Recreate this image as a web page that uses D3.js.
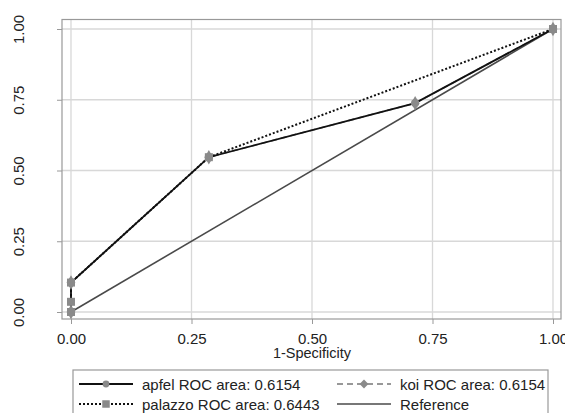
<!DOCTYPE html>
<html>
<head>
<meta charset="utf-8">
<script src="https://cdn.jsdelivr.net/npm/d3@7"></script>
<style>
  body { margin: 0; background: #fff; }
  text { font-family: "Liberation Sans", Arial, sans-serif; fill: #222; }
</style>
</head>
<body>
<div id="chart"></div>
<script>
// ROC curves
const ticks = [0, 0.25, 0.5, 0.75, 1];
const tickLabels = ['0.00', '0.25', '0.50', '0.75', '1.00'];

const apfelFpr = [0, 0, 0.286, 0.714, 1];
const apfelTpr = [0, 0.104, 0.547, 0.738, 1];
const koiFpr = [0, 0, 0.286, 0.714, 1];
const koiTpr = [0, 0.104, 0.547, 0.738, 1];
const palazzoFpr = [0, 0, 0, 0.286, 1];
const palazzoTpr = [0, 0.036, 0.104, 0.547, 1];
const refFpr = [0, 1];
const refTpr = [0, 1];

const legendLabels = ['apfel ROC area: 0.6154', 'koi ROC area: 0.6154',
  'palazzo ROC area: 0.6443', 'Reference'];

const width = 565, height = 413;
const frame = {left: 62, right: 561, top: 19.5, bottom: 319};

const x = d3.scaleLinear().domain([0, 1]).range([71, 553]);
const y = d3.scaleLinear().domain([0, 1]).range([312, 29]);

const svg = d3.select('#chart').append('svg')
  .attr('width', width).attr('height', height);

// grid
svg.append('g').selectAll('line.gx').data(ticks).join('line')
  .attr('x1', d => x(d)).attr('x2', d => x(d))
  .attr('y1', frame.top).attr('y2', frame.bottom)
  .attr('stroke', '#d8d8d8').attr('stroke-width', 1.3);
svg.append('g').selectAll('line.gy').data(ticks).join('line')
  .attr('y1', d => y(d)).attr('y2', d => y(d))
  .attr('x1', frame.left).attr('x2', frame.right)
  .attr('stroke', '#d8d8d8').attr('stroke-width', 1.3);

svg.append('rect')
  .attr('x', frame.left).attr('y', frame.top)
  .attr('width', frame.right - frame.left).attr('height', frame.bottom - frame.top)
  .attr('fill', 'none').attr('stroke', '#999').attr('stroke-width', 1.2);

// axes
const xAxis = d3.axisBottom(x).tickValues(ticks).tickFormat((d, i) => tickLabels[i])
  .tickSize(5).tickPadding(9);
const gx = svg.append('g').attr('transform', `translate(0, ${frame.bottom})`).call(xAxis);
gx.select('.domain').remove();
gx.selectAll('line').attr('stroke', '#999');
gx.selectAll('text').attr('font-size', 15).style('font-family', '"Liberation Sans", Arial, sans-serif').attr('fill', '#222');

const yAxis = d3.axisLeft(y).tickValues(ticks).tickFormat((d, i) => tickLabels[i])
  .tickSize(5).tickPadding(0);
const gy = svg.append('g').attr('transform', `translate(${frame.left}, 0)`).call(yAxis);
gy.select('.domain').remove();
gy.selectAll('line').attr('stroke', '#999');
gy.selectAll('text')
  .attr('font-size', 15).style('font-family', '"Liberation Sans", Arial, sans-serif').attr('fill', '#222')
  .attr('x', null).attr('dy', null)
  .attr('text-anchor', 'middle')
  .attr('transform', 'translate(-38, 0) rotate(-90)');

svg.append('text')
  .attr('x', x(0.5)).attr('y', 358)
  .attr('text-anchor', 'middle').attr('font-size', 14.5)
  .text('1-Specificity');

// series
const pts = (fx, fy) => fx.map((v, i) => [v, fy[i]]);
const line = d3.line().x(d => x(d[0])).y(d => y(d[1]));
const markColor = '#8a8a8a';

const series = [
  {key: 'ref', data: pts(refFpr, refTpr), stroke: '#4a4a4a', width: 1.6, dash: null, mark: null},
  {key: 'koi', data: pts(koiFpr, koiTpr), stroke: '#777', width: 1.6, dash: '6,4', mark: 'diamond'},
  {key: 'palazzo', data: pts(palazzoFpr, palazzoTpr), stroke: '#111', width: 2, dash: '2,2', mark: 'square'},
  {key: 'apfel', data: pts(apfelFpr, apfelTpr), stroke: '#111', width: 1.8, dash: null, mark: 'circle'}
];

const symbols = {
  circle: d3.symbol().type(d3.symbolCircle).size(55),
  square: d3.symbol().type(d3.symbolSquare).size(64),
  diamond: d3.symbol().type(d3.symbolDiamond).size(60)
};
const legendSymbols = {
  circle: d3.symbol().type(d3.symbolCircle).size(36),
  square: d3.symbol().type(d3.symbolSquare).size(56),
  diamond: d3.symbol().type(d3.symbolDiamond2).size(50)
};

series.forEach(s => {
  svg.append('path')
    .attr('d', line(s.data))
    .attr('fill', 'none')
    .attr('stroke', s.stroke)
    .attr('stroke-width', s.width)
    .attr('stroke-dasharray', s.dash);
});
series.filter(s => s.mark).forEach(s => {
  svg.append('g').selectAll('path').data(s.data).join('path')
    .attr('transform', d => `translate(${x(d[0])}, ${y(d[1])})`)
    .attr('d', symbols[s.mark]())
    .attr('fill', markColor);
});

// legend
const legend = svg.append('g');
legend.append('rect')
  .attr('x', 73).attr('y', 370).attr('width', 475).attr('height', 60)
  .attr('fill', 'none').attr('stroke', '#999').attr('stroke-width', 1.2);

const legendItems = [
  {label: legendLabels[0], s: series[3], x0: 79, row: 0},
  {label: legendLabels[1], s: series[1], x0: 337, row: 0},
  {label: legendLabels[2], s: series[2], x0: 79, row: 1},
  {label: legendLabels[3], s: series[0], x0: 337, row: 1}
];
legendItems.forEach(it => {
  const yy = 384 + it.row * 20;
  const len = 54;
  legend.append('line')
    .attr('x1', it.x0).attr('x2', it.x0 + len)
    .attr('y1', yy).attr('y2', yy)
    .attr('stroke', it.s.stroke).attr('stroke-width', it.s.width)
    .attr('stroke-dasharray', it.s.dash);
  if (it.s.mark) {
    legend.append('path')
      .attr('transform', `translate(${it.x0 + len / 2}, ${yy})`)
      .attr('d', legendSymbols[it.s.mark]())
      .attr('fill', markColor);
  }
  legend.append('text')
    .attr('x', it.x0 + len + 9).attr('y', yy + 5.5)
    .attr('font-size', 15)
    .text(it.label);
});
</script>
</body>
</html>
